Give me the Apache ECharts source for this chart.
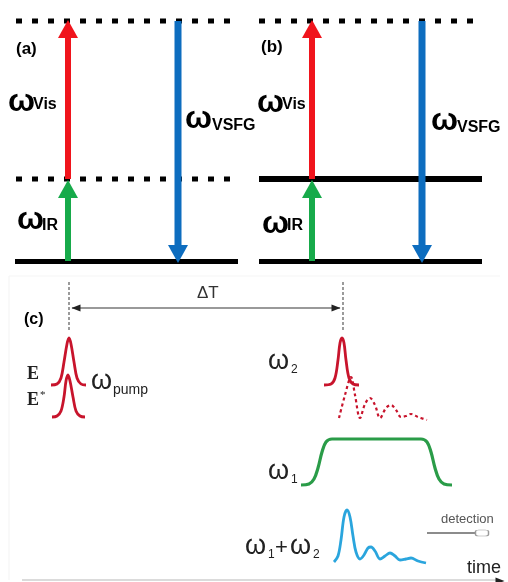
<!DOCTYPE html>
<html>
<head>
<meta charset="utf-8">
<script src="https://cdn.jsdelivr.net/npm/echarts@6/dist/echarts.min.js"></script>
<style>html,body{margin:0;padding:0;background:#fff}#c{width:508px;height:582px}</style>
</head>
<body>
<div id="c"></div>
<script>
// ---------- DATA ----------
// energy levels [x0, x1, y]
const solidLevels = [[15, 238, 261.5], [259, 482, 179], [259, 482, 261.5]];
const dottedLevels = [[16, 234, 21], [16, 234, 179], [259, 479, 21]];
// transitions [x, yStart, yEnd]
const visArrows = [[68, 179, 20], [312, 179, 20]];
const irArrows = [[68, 261, 180], [312, 261, 180]];
const vsfgArrows = [[178, 21, 263], [422, 21, 263]];
// panel (c) waveforms [x, y]
const pulseE = [[51,385],[57,384],[61,378],[64,362],[67,344],[69,338],[71,344],[74,362],[77,378],[81,384],[86,385]];
const pulseEstar = [[52,417],[57,416],[61,411],[64,397],[66,381],[68,375],[70,381],[73,397],[76,411],[80,416],[85,417]];
const pulseW2 = [[324,385],[331,384],[335,378],[338,360],[340,343],[342,338],[344,343],[346,360],[349,378],[353,384],[359,385]];
const decayW2 = [[339,418],[345,395],[351,377],[355,395],[360,418],[365,404],[370,398],[375,405],[380,418],[386,408],[391,405],[396,410],[401,417],[406,416],[411,414],[418,417],[427,420]];
const pulseW1 = [[301,485],[309,484],[314,479],[318,468],[322,452],[326,442],[332,439],[376,439],[421,439],[427,442],[431,452],[435,468],[439,479],[444,484],[452,485]];
const signalSum = [[334,562],[338,556],[341,540],[344,517],[347,510],[350,517],[353,536],[356,552],[360,559],[364,555],[368,548],[371,547],[375,551],[380,559],[385,556],[390,553],[395,556],[400,560],[406,559],[411,558],[418,561],[426,563]];
// delay markers
const delayMarks = [[69, 282, 332], [343, 282, 332]];
const delayArrow = [[72, 308], [340, 308]];
const detectionLine = [[427, 533], [476, 533]];
const timeAxis = [[22, 580], [497, 580]];

// ---------- COLOURS ----------
const RED = '#f0141c', GREEN = '#17aa4a', BLUE = '#0d6dbf';
const CRED = '#c8142c', CGREEN = '#2a9c48', CBLUE = '#2aa5dd';

const series = [];
function seg(pts, style, z) {
  series.push({type: 'line', data: pts, symbol: 'none', silent: true, z: z || 2,
    lineStyle: style, animation: false});
}
function head(pt, color, size, rot, z) {
  series.push({type: 'scatter', data: [pt], symbol: 'triangle', symbolSize: size,
    symbolRotate: rot, itemStyle: {color: color, opacity: 1}, silent: true, z: z || 3, animation: false});
}
solidLevels.forEach(l => seg([[l[0], l[2]], [l[1], l[2]]], {color: '#000', width: l[2] === 179 ? 6 : 5, cap: 'butt'}, 1));
dottedLevels.forEach(l => seg([[l[0], l[2]], [l[1], l[2]]], {color: '#000', width: 5, type: [6, 10], cap: 'butt'}, 1));
function arrow(a, color, shaftW) {
  const up = a[2] < a[1];
  const hl = 18;
  const baseY = up ? a[2] + hl : a[2] - hl;
  seg([[a[0], a[1]], [a[0], baseY]], {color: color, width: shaftW, cap: 'butt'}, 4);
  head([a[0], (baseY + a[2]) / 2], color, [20, hl], up ? 0 : 180, 5);
}
visArrows.forEach(a => arrow(a, RED, 6));
irArrows.forEach(a => arrow(a, GREEN, 6));
vsfgArrows.forEach(a => arrow(a, BLUE, 7));

// panel c
delayMarks.forEach(m => seg([[m[0], m[1]], [m[0], m[2]]], {color: '#666', width: 1.3, type: [3, 2]}, 2));
seg(delayArrow, {color: '#777', width: 1.5}, 2);
head([delayArrow[0][0] + 4, delayArrow[0][1]], '#222', [7, 9], 90, 3);
head([delayArrow[1][0] - 4, delayArrow[1][1]], '#222', [7, 9], -90, 3);
const wave = {smooth: 0.35, symbol: 'none', silent: true, animation: false, type: 'line'};
series.push(Object.assign({}, wave, {data: pulseE, lineStyle: {color: CRED, width: 2.8}}));
series.push(Object.assign({}, wave, {data: pulseEstar, lineStyle: {color: CRED, width: 2.8}}));
series.push(Object.assign({}, wave, {data: pulseW2, lineStyle: {color: CRED, width: 2.8}}));
series.push(Object.assign({}, wave, {data: decayW2, lineStyle: {color: CRED, width: 2.2, type: [3, 3]}}));
series.push(Object.assign({}, wave, {data: pulseW1, lineStyle: {color: CGREEN, width: 3.2}}));
series.push(Object.assign({}, wave, {data: signalSum, lineStyle: {color: CBLUE, width: 2.8}}));
seg(detectionLine, {color: '#666', width: 1.3}, 2);
series.push({type: 'scatter', data: [[482, 533]], symbol: 'roundRect', symbolSize: [13, 6],
  itemStyle: {color: '#fff', borderColor: '#999', borderWidth: 1, opacity: 1}, silent: true, animation: false});
seg(timeAxis, {color: '#cfcfcf', width: 1.5}, 1);
head([500, 581], '#222', [7, 9], -90, 3);
seg([[9, 276], [9, 580]], {color: '#f3f3f3', width: 1}, 0);
seg([[9, 276], [500, 276]], {color: '#f5f5f5', width: 1}, 0);

// ---------- TEXT ----------
const SANS = '"Liberation Sans", Arial, sans-serif';
const SERIF = '"Liberation Serif", "Times New Roman", serif';
function t(x, y, text, size, opts) {
  opts = opts || {};
  return {type: 'text', x: x, y: y, silent: true, z: 100,
    style: {text: text, fill: opts.color || '#000', fontSize: size,
      fontFamily: opts.family || SANS, fontWeight: opts.weight || 'normal',
      verticalAlign: 'middle', align: opts.align || 'left'}};
}
const B = {weight: 'bold'};
const C = {color: '#222'};
const graphics = [
  t(16, 49, '(a)', 17, B),
  t(8, 102, 'ω', 32, B), t(33, 105, 'Vis', 16, B),
  t(185, 119, 'ω', 32, B), t(212, 126, 'VSFG', 16, B),
  t(17, 220, 'ω', 32, B), t(42, 226, 'IR', 16, B),
  t(261, 47, '(b)', 17, B),
  t(257, 103, 'ω', 32, B), t(282, 105, 'Vis', 16, B),
  t(431, 121, 'ω', 32, B), t(457, 128, 'VSFG', 16, B),
  t(262, 224, 'ω', 32, B), t(287, 226, 'IR', 16, B),
  t(197, 293, 'ΔT', 17, {color: '#333'}),
  t(24, 320, '(c)', 16, B),
  t(27, 374, 'E', 18, {family: SERIF, weight: 'bold', color: '#222'}),
  t(27, 400, 'E', 18, {family: SERIF, weight: 'bold', color: '#222'}),
  t(40, 395, '*', 11, {family: SERIF, color: '#222'}),
  t(91, 382, 'ω', 27, C), t(113, 390, 'pump', 14, C),
  t(268, 362, 'ω', 27, C), t(291, 370, '2', 12, C),
  t(268, 472, 'ω', 27, C), t(291, 480, '1', 12, C),
  t(245, 547, 'ω', 27, C), t(268, 555, '1', 12, C),
  t(275, 548, '+', 22, C),
  t(290, 547, 'ω', 27, C), t(313, 555, '2', 12, C),
  t(441, 519, 'detection', 13, {color: '#555'}),
  t(467, 568, 'time', 18, C)
];

const chart = echarts.init(document.getElementById('c'), null, {renderer: 'canvas'});
chart.setOption({
  animation: false,
  backgroundColor: '#fff',
  grid: {left: 0, right: 0, top: 0, bottom: 0, containLabel: false},
  xAxis: {type: 'value', min: 0, max: 508, show: false},
  yAxis: {type: 'value', min: 0, max: 582, inverse: true, show: false},
  series: series,
  graphic: graphics
});
</script>
</body>
</html>
